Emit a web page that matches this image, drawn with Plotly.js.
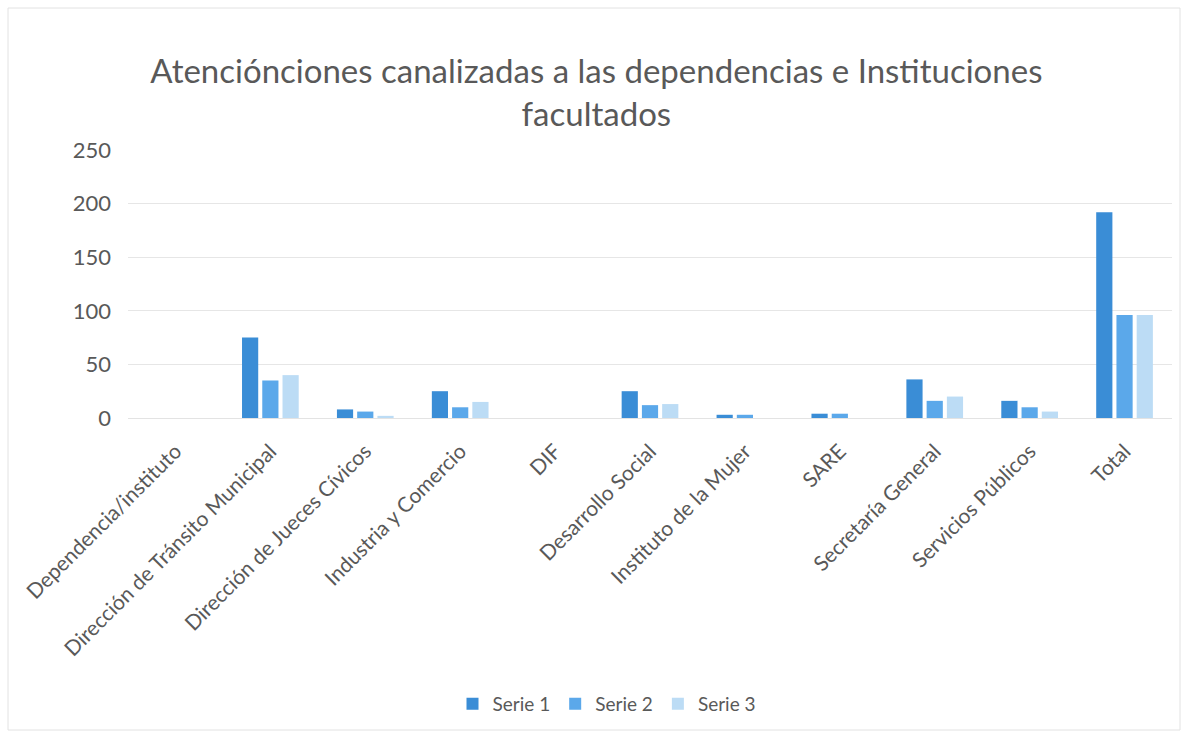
<!DOCTYPE html>
<html><head><meta charset="utf-8">
<script src="https://cdn.plot.ly/plotly-3.0.1.min.js"></script>
<style>html,body{margin:0;padding:0;background:#fff;}#chart{width:1188px;height:734px;}</style>
</head><body><div id="chart"></div>
<script>
const categories = ["Dependencia/instituto","Dirección de Tránsito Municipal","Dirección de Jueces Cívicos","Industria y Comercio","DIF","Desarrollo Social","Instituto de la Mujer","SARE","Secretaría General","Servicios Públicos","Total"];
const serie1 = [0,75,8,25,0,25,3,4,36,16,192];
const serie2 = [0,35,6,10,0,12,3,4,16,10,96];
const serie3 = [0,40,2,15,0,13,0,0,20,6,96];
const seriesNames = ["Serie 1","Serie 2","Serie 3"];
const colors = ["#3a8dd6","#5ba8ea","#bcdcf5"];
const yTicks = [0,50,100,150,200,250];

const data = [serie1,serie2,serie3].map((v,i)=>({
  type:"bar", x:categories, y:v, name:seriesNames[i],
  marker:{color:colors[i]}
}));
const fontFam = "Lato, 'Noto Sans', sans-serif";
const L=128, R=16, T=150, B=316, W=1188, H=734;
const pw = W-L-R, ph = H-T-B;
Plotly.newPlot("chart", data, {
  width:W, height:H,
  paper_bgcolor:"#fff", plot_bgcolor:"#fff",
  margin:{l:L, r:R, t:T, b:B},
  title:{text:"Atenciónciones canalizadas a las dependencias e Instituciones<br>facultados", x:0.502, xanchor:"center", y:0.887, yanchor:"top",
    font:{family:fontFam, size:33, color:"#595959"}},
  barmode:"group", bargap:0.36, bargroupgap:0.2,
  xaxis:{tickangle:-45, tickfont:{family:fontFam, size:21, color:"#595959"}, showline:false, ticks:"", showgrid:false, ticklabelstandoff:16},
  yaxis:{range:[0,250], tickvals:yTicks, tickfont:{family:fontFam, size:22, color:"#595959"}, gridcolor:"#e6e6e6", zeroline:true, zerolinecolor:"#e3e3e3", ticklabelstandoff:16},
  legend:{orientation:"h", x:(607-L)/pw, xanchor:"center", y:(T+ph-704)/ph, yanchor:"middle", font:{family:fontFam, size:19, color:"#595959"}},
  showlegend:true,
  shapes:[{type:"rect", xref:"paper", yref:"paper", x0:(8-L)/pw, x1:(1180-L)/pw, y0:(T+ph-730)/ph, y1:(T+ph-8)/ph, line:{color:"#e2e2e2", width:1}, fillcolor:"rgba(0,0,0,0)", layer:"below"}]
}, {displayModeBar:false, staticPlot:true});
</script></body></html>
